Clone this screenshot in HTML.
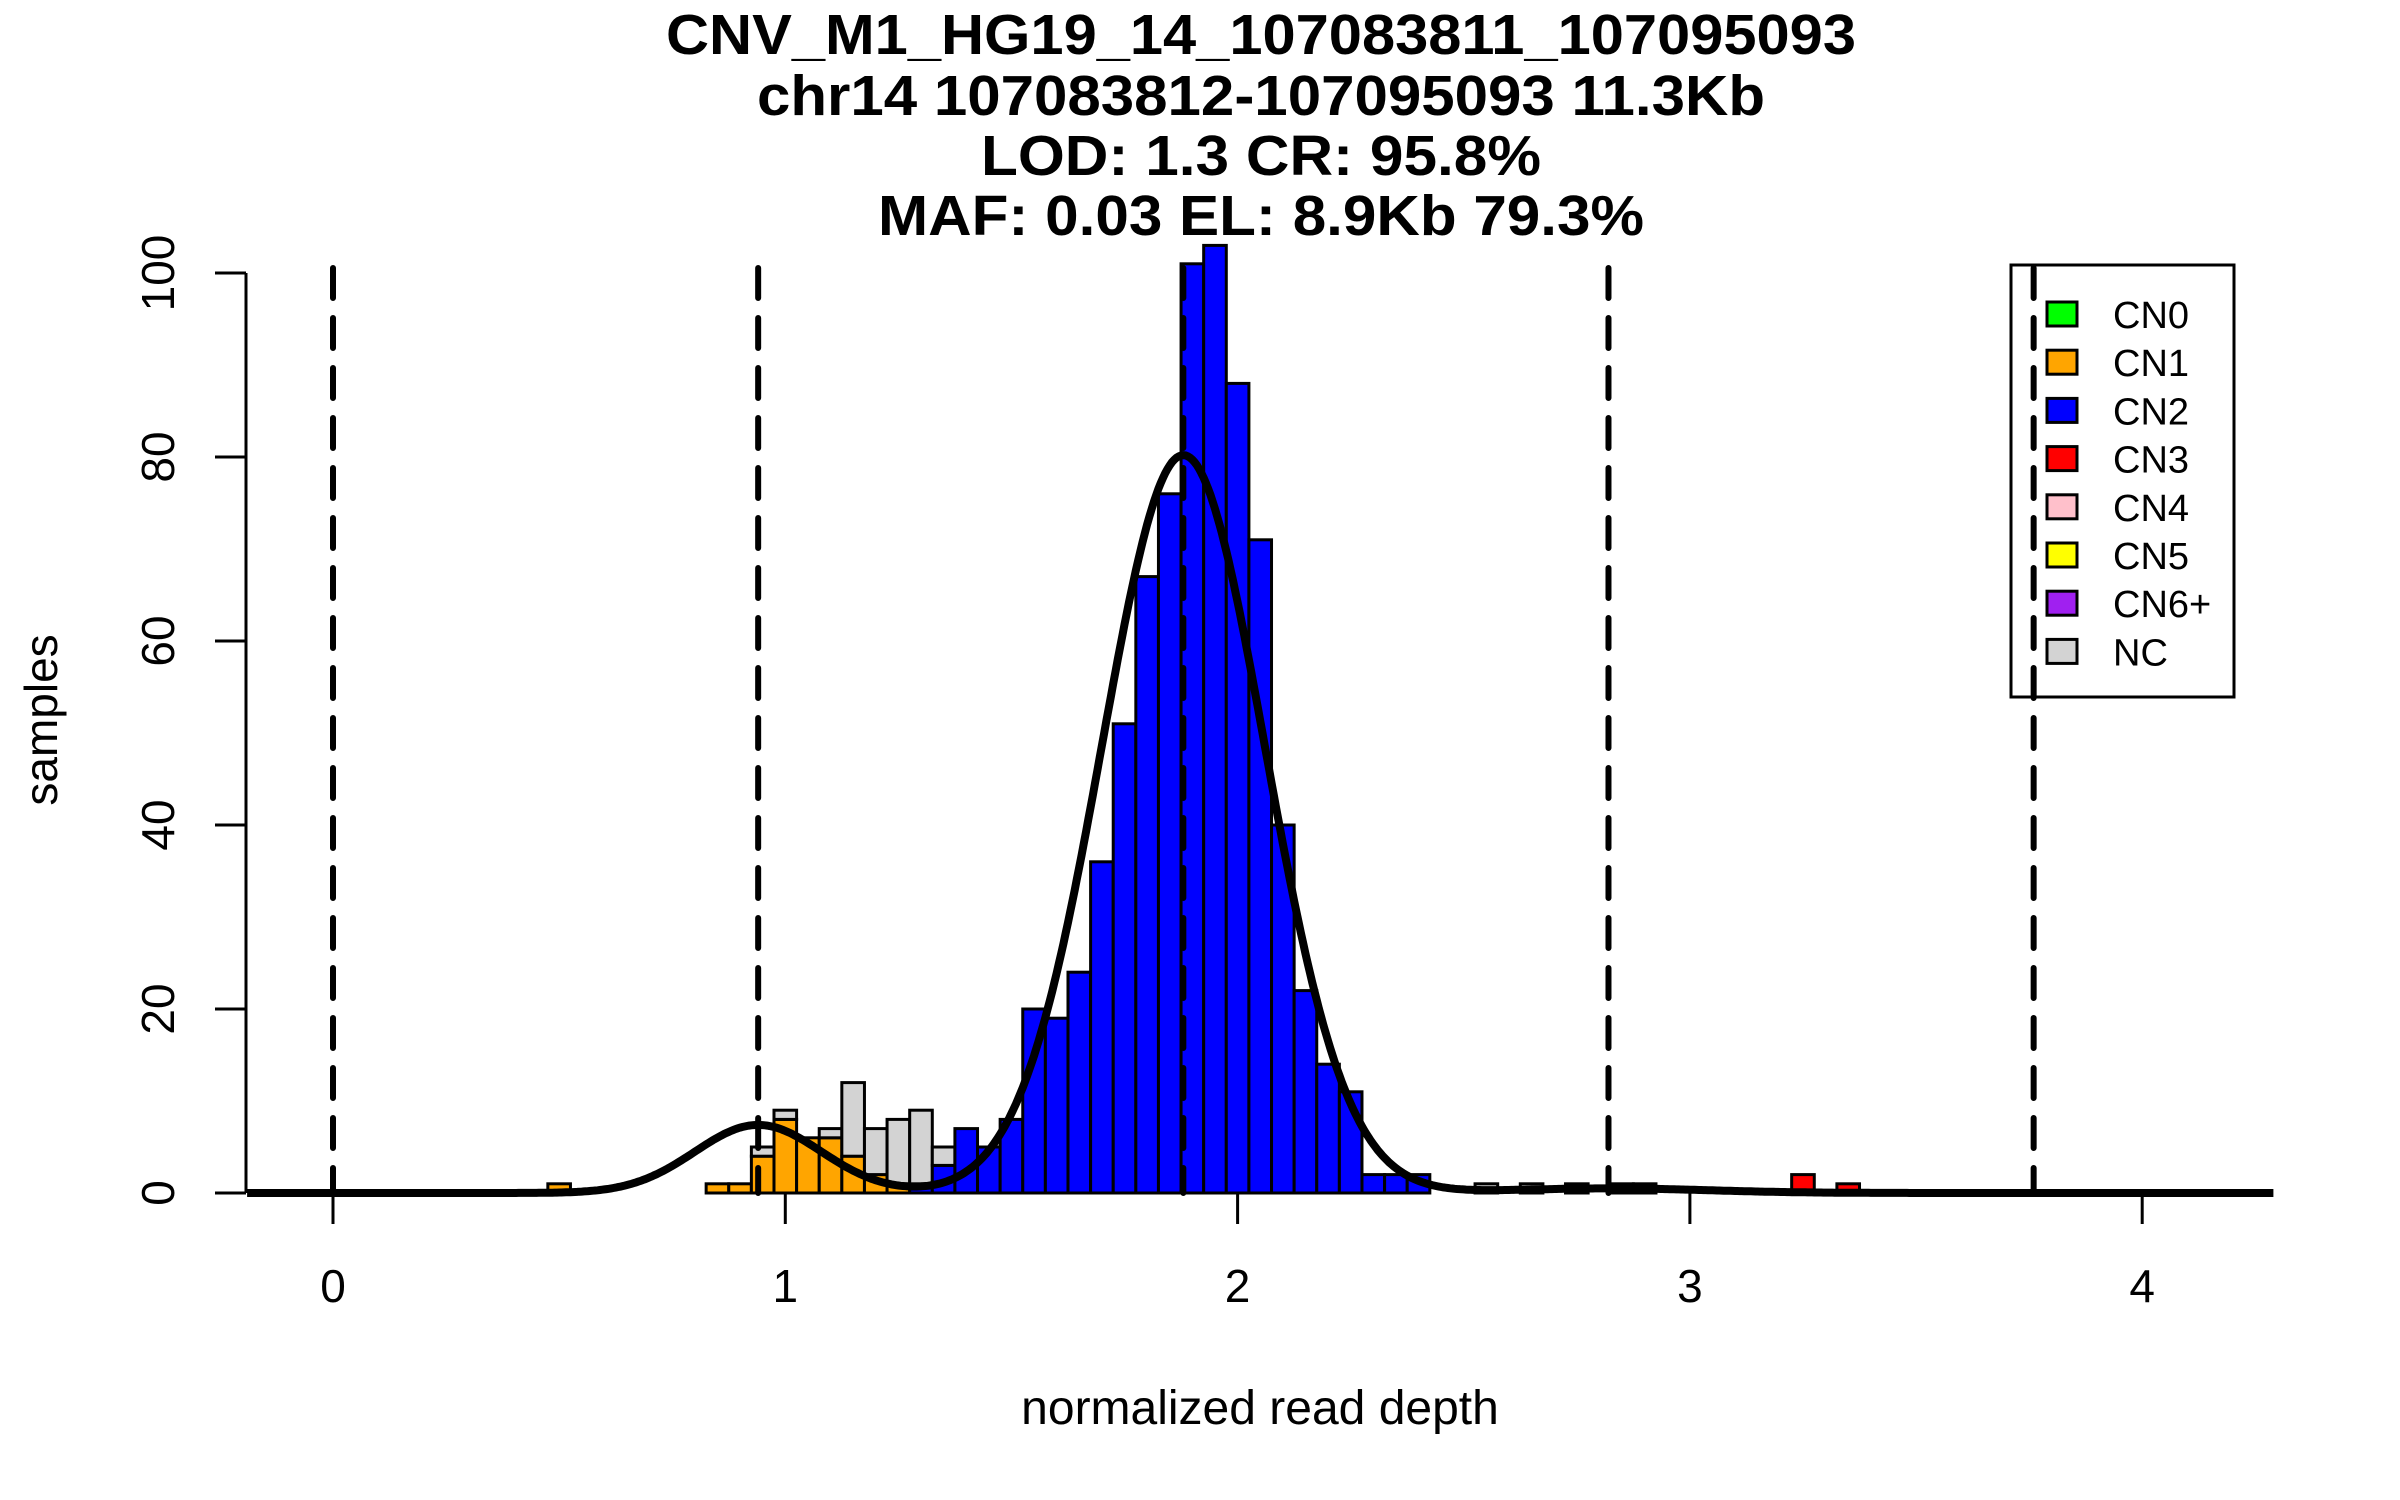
<!DOCTYPE html>
<html><head><meta charset="utf-8"><style>
html,body{margin:0;padding:0;background:#fff;}
svg{display:block;font-family:"Liberation Sans",Arial,sans-serif;}
</style></head><body>
<svg id="chart" width="2400" height="1500" viewBox="0 0 2400 1500">
<g font-weight="bold" font-size="57" text-anchor="middle">
<text x="1261" y="54" textLength="1190" lengthAdjust="spacingAndGlyphs">CNV_M1_HG19_14_107083811_107095093</text>
<text x="1261" y="115" textLength="1008" lengthAdjust="spacingAndGlyphs">chr14 107083812-107095093 11.3Kb</text>
<text x="1261" y="175" textLength="560" lengthAdjust="spacingAndGlyphs">LOD: 1.3 CR: 95.8%</text>
<text x="1261" y="235" textLength="766" lengthAdjust="spacingAndGlyphs">MAF: 0.03 EL: 8.9Kb 79.3%</text>
</g>
<g id="bars"></g>
<g id="vlines"></g>
<path id="curve" fill="none" stroke="#000" stroke-width="8"/>
<g id="axes"></g>
<text x="1260" y="1424" font-size="48" text-anchor="middle">normalized read depth</text>
<text transform="translate(57,720) rotate(-90)" font-size="46" text-anchor="middle">samples</text>
<g id="legend"></g>
</svg>
<script>
const binCenters=[0.5,0.85,0.9,0.95,1.0,1.05,1.1,1.15,1.2,1.25,1.3,1.35,1.4,1.45,1.5,1.55,1.6,1.65,1.7,1.75,1.8,1.85,1.9,1.95,2.0,2.05,2.1,2.15,2.2,2.25,2.3,2.35,2.4,2.55,2.65,2.75,2.85,2.9,3.25,3.35];
const cn1Counts=[1,1,1,4,8,6,6,4,2,1,0,0,0,0,0,0,0,0,0,0,0,0,0,0,0,0,0,0,0,0,0,0,0,0,0,0,0,0,0,0];
const cn2Counts=[0,0,0,0,0,0,0,0,0,0,1,3,7,5,8,20,19,24,36,51,67,76,101,103,88,71,40,22,14,11,2,2,2,0,0,0,0,0,0,0];
const cn3Counts=[0,0,0,0,0,0,0,0,0,0,0,0,0,0,0,0,0,0,0,0,0,0,0,0,0,0,0,0,0,0,0,0,0,0,0,0,0,0,2,1];
const ncCounts=[0,0,0,1,1,0,1,8,5,7,8,2,0,0,0,0,0,0,0,0,0,0,0,0,0,0,0,0,0,0,0,0,0,1,1,1,1,1,0,0];
const binWidth=0.05;
const boundaries=[0,0.94,1.88,2.82,3.76];
const xTicks=[0,1,2,3,4];
const yTicks=[0,20,40,60,80,100];
const curveMeans=[0.94,1.88,2.82];
const curvePeaks=[7.4,80.2,0.5];
const curveSds=[0.14,0.18,0.22];
const legendLabels=["CN0","CN1","CN2","CN3","CN4","CN5","CN6+","NC"];
const legendColors=["#00ff00","#ffa500","#0000ff","#ff0000","#ffc0cb","#ffff00","#a020f0","#d3d3d3"];

const NS="http://www.w3.org/2000/svg";
const X=v=>333+v*452.3;
const Y=v=>1193-v*9.2;
function mk(tag,attrs,parent){const e=document.createElementNS(NS,tag);for(const k in attrs)e.setAttribute(k,attrs[k]);parent.appendChild(e);return e;}

const bars=document.getElementById('bars');
const series=[[cn1Counts,"#ffa500","cn1"],[cn2Counts,"#0000ff","cn2"],[cn3Counts,"#ff0000","cn3"],[ncCounts,"#d3d3d3","nc"]];
binCenters.forEach((c,i)=>{
  let base=0;
  series.forEach(s=>{
    const v=s[0][i]; if(!v) return;
    const r=mk('rect',{x:X(c-binWidth/2),y:Y(base+v),width:X(c+binWidth/2)-X(c-binWidth/2),height:Y(base)-Y(base+v),fill:s[1],stroke:"#000","stroke-width":3},bars);
    
    
    base+=v;
  });
});

const vl=document.getElementById('vlines');
boundaries.forEach(b=>{
  const l=mk('line',{x1:X(b),x2:X(b),y1:268,y2:1193,stroke:"#000","stroke-width":6,"stroke-dasharray":"30 20","stroke-linecap":"round"},vl);
  
  
});

let d="";
for(let x=-0.19;x<=4.29;x+=0.005){
  let y=0;for(let k=0;k<curveMeans.length;k++){y+=curvePeaks[k]*Math.exp(-0.5*Math.pow((x-curveMeans[k])/curveSds[k],2));}
  d+=(d?"L":"M")+X(x).toFixed(1)+","+Y(y).toFixed(1);
}
document.getElementById('curve').setAttribute('d',d);

const ax=document.getElementById('axes');
mk('line',{x1:246,x2:246,y1:Y(100),y2:Y(0),stroke:"#000","stroke-width":3},ax);
yTicks.forEach(t=>{
  const l=mk('line',{x1:215,x2:246,y1:Y(t),y2:Y(t),stroke:"#000","stroke-width":3},ax);
  
  
  const tx=mk('text',{transform:`translate(174,${Y(t)}) rotate(-90)`,"font-size":46,"text-anchor":"middle"},ax);
  tx.textContent=t;
  
  
});
xTicks.forEach(t=>{
  const l=mk('line',{x1:X(t),x2:X(t),y1:1193,y2:1224,stroke:"#000","stroke-width":3},ax);
  
  
  const tx=mk('text',{x:X(t),y:1302,"font-size":46,"text-anchor":"middle"},ax);
  tx.textContent=t;
  
  
});

const lg=document.getElementById('legend');
mk('rect',{x:2011,y:265,width:223,height:432,fill:"none",stroke:"#000","stroke-width":3},lg);
legendLabels.forEach((lab,i)=>{
  const cy=314+i*48.2;
  const r=mk('rect',{x:2047,y:cy-12,width:30,height:24,fill:legendColors[i],stroke:"#000","stroke-width":3},lg);
  
  
  const t=mk('text',{x:2113,y:cy+14,"font-size":38},lg);
  t.textContent=lab;
  
  
});
</script>
</body></html>
